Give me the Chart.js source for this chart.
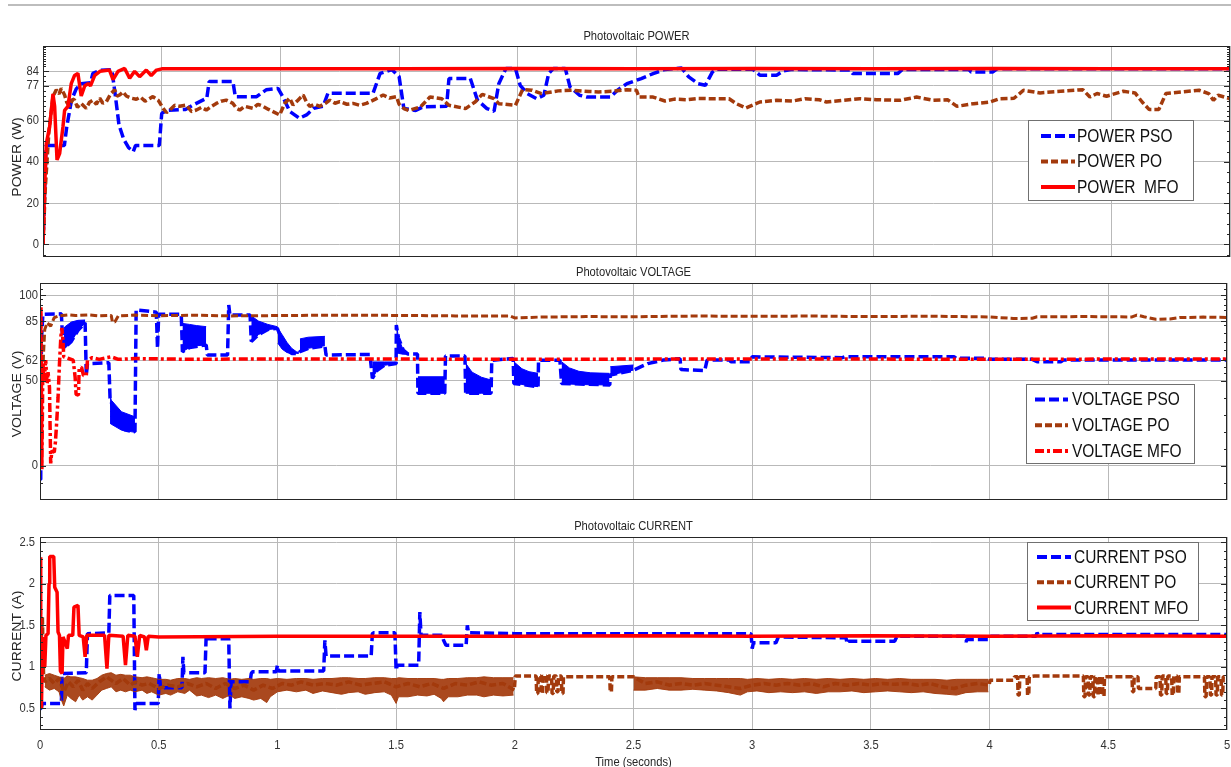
<!DOCTYPE html>
<html>
<head>
<meta charset="utf-8">
<title>Photovoltaic POWER / VOLTAGE / CURRENT</title>
<script src="https://cdn.jsdelivr.net/npm/chart.js@4.4.1/dist/chart.umd.min.js"></script>
<style>
  html, body { margin: 0; padding: 0; background: #ffffff; }
  #fig { position: relative; width: 1231px; height: 767px; overflow: hidden; background: #ffffff; }
  #fig canvas { position: absolute; left: 0; }
  #rule { position: absolute; left: 8px; top: 4px; width: 1223px; height: 2px; background: #bdbdbd; }
</style>
</head>
<body>
<div id="fig">
  <div id="rule"></div>
  <canvas id="cPower" width="1231" height="262" style="top:0px"></canvas>
  <canvas id="cVolt" width="1231" height="241" style="top:262px"></canvas>
  <canvas id="cCurr" width="1231" height="264" style="top:503px"></canvas>
</div>
<script>
// ---------- time axis ----------
const timeTicks = [0, 0.5, 1, 1.5, 2, 2.5, 3, 3.5, 4, 4.5, 5];
const timeLabels = ['0', '0.5', '1', '1.5', '2', '2.5', '3', '3.5', '4', '4.5', '5'];

// ---------- PV power (W), [time s, value] ----------
const powerTicks = [0, 20, 40, 60, 77, 84];
const powerMinor = [-5, 5, 10, 15, 25, 30, 35, 45, 50, 55, 62.4, 64.8, 67.2, 69.6, 72, 74.4, 79.3, 81.7,
  86.4, 87.6, 88.8, 90, 91.2, 92.4, 93.6, 94.8, 96];

const powerPSO = [[0,0],[0.008,30],[0.013,48],[0.09,48],[0.1,57],[0.12,70],[0.14,75.5],[0.16,78],[0.2,78.5],
  [0.21,83],[0.24,84.5],[0.29,84.8],[0.305,72],[0.32,58],[0.34,51],[0.36,47],[0.38,45],[0.39,48],[0.49,48],
  [0.5,63.5],[0.52,65],[0.6,65.5],[0.63,67.5],[0.69,71],[0.7,79],[0.8,79],[0.81,71.7],[0.9,71.7],[0.94,75],
  [0.99,75.7],[1.01,71.7],[1.04,64.5],[1.08,61.2],[1.11,62.8],[1.14,66],[1.18,67],[1.2,73.3],[1.39,73.3],
  [1.42,83],[1.47,84.8],[1.5,81.5],[1.52,66],[1.57,65],[1.6,66.7],[1.7,67],[1.71,80.5],[1.8,80.5],[1.83,70],
  [1.87,65.9],[1.9,64.6],[1.92,78],[1.95,85.4],[1.99,85.4],[2.01,77.2],[2.04,73.2],[2.08,70.7],[2.11,72.4],
  [2.13,82.9],[2.15,85.4],[2.2,85.4],[2.22,76.4],[2.26,72.4],[2.29,71.5],[2.39,71.5],[2.42,74.8],[2.46,78],
  [2.52,80.5],[2.57,82.9],[2.62,84.9],[2.69,85.6],[2.72,81.3],[2.76,78],[2.79,77.2],[2.82,83.7],[2.84,85],
  [2.99,85],[3.02,82.1],[3.09,82.1],[3.12,84.2],[3.15,84.9],[3.4,84.6],[3.41,82.9],[3.6,82.9],[3.62,84.9],
  [3.9,84.9],[3.91,83.7],[4.0,83.7],[4.02,85.3],[5,85.3]];

const powerPO = [[0,0],[0.01,28],[0.025,55],[0.042,71.7],[0.056,75],[0.068,73],[0.077,75.7],[0.091,72.5],
  [0.1,69],[0.112,67],[0.125,70.5],[0.133,70],[0.145,66.5],[0.161,68.4],[0.182,66],[0.196,69],[0.21,70],
  [0.225,68],[0.239,71],[0.252,68.5],[0.267,69.3],[0.285,73],[0.302,75],[0.312,72],[0.323,72.5],[0.337,74],
  [0.351,72],[0.37,71],[0.393,70.4],[0.41,71.5],[0.43,69.5],[0.463,71.7],[0.485,70],[0.506,66],[0.52,64],
  [0.534,65.2],[0.555,67.5],[0.576,67],[0.604,67.6],[0.625,64.5],[0.646,65.2],[0.668,66.5],[0.688,65.2],
  [0.71,67],[0.73,68.4],[0.75,69.5],[0.772,70],[0.8,68.4],[0.815,66],[0.829,65.2],[0.85,67],[0.885,66],
  [0.905,68],[0.927,67],[0.95,65.5],[0.969,64.4],[0.997,62.8],[1.018,68.4],[1.039,71],[1.053,67.6],[1.074,70],
  [1.096,72.5],[1.11,69],[1.124,67],[1.145,68],[1.166,67],[1.19,68.5],[1.208,70],[1.23,68.5],[1.25,69.3],
  [1.28,68],[1.306,68.4],[1.335,67.5],[1.362,68.4],[1.4,70.5],[1.433,72.5],[1.46,71],[1.489,71.7],[1.5,68],
  [1.52,65.9],[1.54,65],[1.59,66.7],[1.63,71.5],[1.68,70.7],[1.71,67.5],[1.78,65.9],[1.82,69.1],[1.85,72.8],
  [1.9,70.7],[1.92,68.3],[1.99,67.5],[2.02,75.1],[2.06,74.8],[2.1,73.2],[2.17,74.5],[2.23,74.8],[2.3,74.2],
  [2.34,74],[2.4,74.3],[2.46,75.1],[2.5,74.8],[2.51,71.5],[2.57,71.5],[2.62,69.6],[2.66,70.5],[2.71,70.2],
  [2.76,70.8],[2.82,70.7],[2.89,70.7],[2.92,68.3],[2.96,66.2],[3.02,69.1],[3.09,69.9],[3.16,69.6],[3.21,70.7],
  [3.27,70.2],[3.3,69.1],[3.37,69.9],[3.44,70.7],[3.51,70.2],[3.61,69.9],[3.68,71.5],[3.75,69.9],[3.81,70.2],
  [3.85,67],[3.92,68.3],[3.99,69.1],[4.03,70.7],[4.09,70.9],[4.13,74.8],[4.2,73.5],[4.31,74.5],[4.38,75.1],
  [4.41,71.5],[4.44,73.2],[4.48,71.9],[4.55,74.3],[4.6,73.5],[4.63,69.1],[4.66,65.4],[4.7,65.4],[4.73,73.2],
  [4.8,74],[4.87,74.8],[4.91,73.2],[4.93,69.9],[4.95,72.4],[5,70.7]];

const powerMFO = [[0,0],[0.007,28],[0.014,49],[0.028,57],[0.042,73],[0.049,67],[0.059,41],[0.07,44],
  [0.084,57],[0.091,65],[0.105,67],[0.119,78],[0.133,82],[0.147,83],[0.161,72],[0.176,77],[0.19,78],[0.2,77],
  [0.218,82],[0.24,84],[0.28,84.6],[0.295,80],[0.316,84],[0.344,85.4],[0.365,80.6],[0.386,84],[0.407,81.4],
  [0.435,84.6],[0.456,82],[0.478,84.6],[0.5,85.2],[1,85.3],[1.5,85.2],[2,85.4],[2.5,85.3],[3,85.4],
  [3.5,85.3],[4,85.4],[4.5,85.3],[5,85.3]];

// ---------- PV voltage (V) ----------
const voltTicks = [0, 50, 62, 85, 100];
const voltMinor = [-10, 10, 20, 30, 40, 54.3, 58.2, 68, 72.9, 77.7, 82.6, 91.4, 94.3, 97.7, 103.5];

const voltPSO = [[0,-8],[0.003,-8],[0.006,73],[0.012,89],[0.09,89.2],[0.097,70],[0.1,69],[0.13,72.7],
  [0.16,79.5],[0.19,84],[0.195,53.2],[0.2,60],[0.29,60.5],[0.295,40],[0.33,23],[0.36,21],[0.4,20],
  [0.405,91.5],[0.49,90.2],[0.495,69],[0.5,89],[0.595,89],[0.6,67],[0.63,69.5],[0.7,71],[0.705,65],
  [0.79,65],[0.795,94.4],[0.8,88.5],[0.885,88.5],[0.89,73],[0.92,77],[0.96,80],[1.0,80.7],[1.02,73],
  [1.04,68],[1.06,66],[1.09,66],[1.095,67],[1.13,69],[1.2,70.5],[1.205,65],[1.39,65.4],[1.4,51.4],
  [1.42,56],[1.45,59],[1.5,60],[1.501,82.6],[1.51,75],[1.53,68],[1.55,65.6],[1.59,65.6],[1.592,42.6],
  [1.705,42.6],[1.708,64.5],[1.79,64.5],[1.793,42.6],[1.9,42.6],[1.903,62],[1.993,63],[1.996,48.4],
  [2.098,46.5],[2.1,62],[2.19,62],[2.197,48.4],[2.4,47.5],[2.402,53.3],[2.5,56.2],[2.56,60],[2.626,62.1],
  [2.696,62.9],[2.7,56.5],[2.8,56],[2.81,62.1],[2.905,62.1],[2.91,61.1],[2.99,61.1],[3.0,64],[3.38,63.5],
  [3.39,64],[3.85,64],[3.86,63.1],[3.99,63.1],[4.0,62.5],[4.18,62.5],[4.2,61.1],[4.3,61.1],[4.31,62.1],[5,62.1]];

// fast switching ripple of the PSO voltage: [time, lower envelope, upper envelope]
const voltPSORipple = [
  [0.1,69,79],[0.104,68.8,81.5],[0.132,72.7,84.4],[0.16,79.5,85.4],[0.19,84,85.6],[0.192,null,null],
  [0.295,25,42],[0.3,24.5,38.6],[0.343,21,31.8],[0.4,19.7,28.8],[0.402,null,null],
  [0.6,67,83.6],[0.63,69.5,83],[0.66,70.5,82.3],[0.7,71,81.7],[0.702,null,null],
  [0.89,73,88],[0.92,77,85],[0.96,80,83],[0.999,80.5,81.7],[1.0,null,null],
  [1.002,72,80.7],[1.02,68.5,77],[1.04,66.5,72.5],[1.06,66,69],[1.08,66,67],[1.09,66,66.5],[1.092,null,null],
  [1.095,67,74.5],[1.13,69,75.5],[1.2,70.5,76],[1.202,null,null],
  [1.4,51.4,61],[1.42,56,61],[1.45,59,61],[1.499,60,61],[1.5,null,null],
  [1.502,66,82.6],[1.51,66,75],[1.53,65.5,68],[1.55,65.5,66],[1.552,null,null],
  [1.592,42.6,52.3],[1.705,42.6,52.3],[1.707,null,null],
  [1.793,42.6,60.2],[1.82,42.6,55],[1.86,42.6,52],[1.9,42.6,50.4],[1.902,null,null],
  [1.996,48.4,61.1],[2.03,47.8,57],[2.06,47,55.3],[2.098,46.5,54.3],[2.1,null,null],
  [2.197,48.4,61.1],[2.23,48,57.5],[2.27,47.8,55.5],[2.32,47.6,54.6],[2.399,47.5,54.3],[2.4,null,null],
  [2.402,53.3,58.2],[2.5,56.2,59.2]];

const voltPO = [[0,40],[0.005,55],[0.01,48],[0.015,66],[0.02,80],[0.03,84],[0.045,82],[0.06,87],[0.08,88],
  [0.12,88.6],[0.15,88.2],[0.2,88.6],[0.25,88],[0.3,88.3],[0.305,84.4],[0.315,84.4],[0.33,88],[0.4,88.5],
  [0.5,88.1],[0.65,88.4],[0.8,88],[1.0,88.2],[1.2,88.4],[1.5,88.3],[1.75,88],[1.98,88],[2.0,86.8],[2.1,87.3],
  [2.3,87.6],[2.5,87.5],[2.75,87.9],[3.0,87.8],[3.25,87.9],[3.5,87.6],[3.75,87.8],[4.0,87.4],[4.1,86.5],
  [4.18,86.6],[4.2,87.5],[4.4,87.6],[4.6,87.4],[4.62,88.5],[4.65,87.5],[4.7,86],[4.76,86.2],[4.8,87],
  [4.9,87.3],[5,87.1]];

const voltMFO = [[0,5],[0.004,93],[0.008,-2],[0.012,60],[0.018,50],[0.024,62],[0.03,48],[0.034,55],[0.04,46],
  [0.045,1.5],[0.05,9],[0.06,8],[0.065,14],[0.07,25],[0.076,40],[0.082,60],[0.088,76],[0.092,81],[0.097,73],
  [0.1,64],[0.12,63],[0.14,62],[0.148,52],[0.152,42],[0.162,41.5],[0.165,57],[0.175,58],[0.183,53],[0.195,53],
  [0.2,62],[0.22,63.5],[0.25,62.5],[0.28,63.5],[0.3,64],[0.33,62.5],[0.4,63],[0.6,62.6],[1,62.7],[2,62.6],
  [3,62.7],[4,62.6],[5,62.7]];

// ---------- PV current (A) ----------
const currTicks = [0.5, 1, 1.5, 2, 2.5];
const currMinor = [0.3, 0.4, 0.6, 0.7, 0.8, 0.9, 1.1, 1.2, 1.3, 1.4, 1.6, 1.7, 1.8, 1.9, 2.1, 2.2, 2.3, 2.4];

const currPSO = [[0,0.5],[0.005,0.5],[0.01,0.56],[0.09,0.56],[0.093,0.92],[0.195,0.93],[0.2,1.4],[0.29,1.41],
  [0.294,1.86],[0.395,1.86],[0.4,0.48],[0.405,0.56],[0.498,0.56],[0.502,0.92],[0.508,0.75],[0.598,0.75],
  [0.602,1.12],[0.606,0.93],[0.695,0.93],[0.7,1.38],[0.705,1.34],[0.795,1.34],[0.8,0.5],[0.805,0.82],
  [0.885,0.82],[0.89,0.92],[0.895,0.94],[0.995,0.94],[1.0,1.02],[1.005,0.95],[1.195,0.95],[1.2,1.32],
  [1.205,1.13],[1.395,1.13],[1.4,1.4],[1.405,1.41],[1.495,1.41],[1.5,0.96],[1.505,1.02],[1.595,1.02],
  [1.6,1.66],[1.605,1.38],[1.695,1.38],[1.7,1.32],[1.71,1.26],[1.795,1.26],[1.8,1.5],[1.805,1.41],[2.0,1.4],
  [2.995,1.4],[3.0,1.22],[3.005,1.29],[3.1,1.29],[3.11,1.36],[3.395,1.35],[3.4,1.28],[3.405,1.31],[3.6,1.31],
  [3.61,1.37],[3.895,1.37],[3.9,1.3],[3.905,1.33],[4.0,1.33],[4.005,1.37],[4.195,1.37],[4.2,1.41],[4.205,1.39],
  [5,1.39]];

const currPO = [[0,1.84],[0.005,1.3],[0.01,1.6],[0.015,0.9],[0.02,0.82],[0.04,0.86],[0.06,0.8],[0.08,0.86],
  [0.1,0.7],[0.12,0.82],[0.14,0.76],[0.16,0.84],[0.18,0.72],[0.2,0.8],[0.22,0.74],[0.25,0.82],[0.28,0.88],
  [0.3,0.84],[0.32,0.8],[0.35,0.86],[0.38,0.78],[0.4,0.82],[0.43,0.78],[0.46,0.8],[0.5,0.74],[0.54,0.78],
  [0.58,0.76],[0.62,0.8],[0.66,0.76],[0.7,0.8],[0.74,0.74],[0.78,0.8],[0.82,0.74],[0.86,0.78],[0.9,0.72],
  [0.94,0.78],[0.98,0.74],[1.02,0.8],[1.06,0.78],[1.1,0.82],[1.15,0.78],[1.2,0.8],[1.25,0.78],[1.3,0.82],
  [1.35,0.78],[1.4,0.8],[1.45,0.82],[1.5,0.76],[1.55,0.8],[1.6,0.76],[1.65,0.8],[1.7,0.74],[1.75,0.8],
  [1.8,0.78],[1.85,0.82],[1.9,0.78],[1.95,0.8],[1.998,0.72],
  [2.002,0.89],[2.09,0.89],[2.092,0.68],[2.097,0.68],[2.099,0.89],[2.11,0.89],[2.112,0.68],[2.117,0.68],
  [2.119,0.89],[2.133,0.89],[2.135,0.69],[2.14,0.69],[2.142,0.89],[2.155,0.89],[2.157,0.68],[2.162,0.68],
  [2.164,0.89],[2.175,0.89],[2.177,0.7],[2.182,0.7],[2.184,0.89],[2.196,0.89],[2.198,0.68],[2.203,0.68],
  [2.205,0.88],[2.4,0.88],[2.402,0.7],[2.407,0.7],[2.409,0.88],[2.5,0.88],
  [2.55,0.8],[2.6,0.82],[2.65,0.78],[2.7,0.8],[2.75,0.78],[2.8,0.8],[2.85,0.78],[2.9,0.76],[2.95,0.74],
  [3.0,0.78],[3.05,0.8],[3.1,0.78],[3.15,0.8],[3.2,0.78],[3.25,0.8],[3.3,0.76],[3.35,0.8],[3.4,0.78],
  [3.45,0.8],[3.5,0.78],[3.55,0.8],[3.6,0.79],[3.65,0.8],[3.7,0.78],[3.75,0.8],[3.8,0.76],[3.85,0.74],
  [3.9,0.78],[3.95,0.8],[3.998,0.78],
  [4.002,0.84],[4.1,0.84],[4.105,0.88],[4.118,0.88],[4.12,0.66],[4.125,0.66],[4.127,0.88],[4.158,0.88],
  [4.16,0.66],[4.165,0.66],[4.167,0.88],[4.19,0.89],[4.395,0.89],[4.397,0.64],[4.402,0.64],[4.404,0.88],
  [4.415,0.88],[4.417,0.66],[4.422,0.66],[4.424,0.88],[4.435,0.88],[4.437,0.64],[4.442,0.64],[4.444,0.88],
  [4.455,0.88],[4.457,0.66],[4.462,0.66],[4.464,0.88],[4.475,0.88],[4.477,0.65],[4.482,0.65],[4.484,0.88],
  [4.6,0.88],[4.602,0.7],[4.607,0.7],[4.609,0.88],[4.625,0.88],[4.627,0.74],[4.7,0.74],[4.702,0.88],
  [4.718,0.88],[4.72,0.66],[4.725,0.66],[4.727,0.89],[4.742,0.89],[4.744,0.68],[4.749,0.68],[4.751,0.89],
  [4.767,0.89],[4.769,0.66],[4.774,0.66],[4.776,0.89],[4.79,0.89],[4.792,0.68],[4.797,0.68],[4.799,0.88],
  [4.905,0.88],[4.907,0.64],[4.912,0.64],[4.914,0.88],[4.928,0.88],[4.93,0.66],[4.935,0.66],[4.937,0.88],
  [4.952,0.88],[4.954,0.66],[4.959,0.66],[4.961,0.88],[4.975,0.88],[4.977,0.66],[4.982,0.66],[4.984,0.88],
  [5,0.88]];

// chattering of the P&O current: [time, lower envelope, upper envelope]
const currPORipple = [
  [0.02,0.76,0.9],[0.04,0.72,0.92],[0.06,0.74,0.9],[0.08,0.7,0.88],[0.09,0.6,0.87],[0.1,0.53,0.86],
  [0.115,0.66,0.89],[0.13,0.62,0.88],[0.15,0.58,0.88],[0.165,0.66,0.87],[0.18,0.6,0.86],[0.2,0.64,0.84],
  [0.22,0.6,0.84],[0.24,0.66,0.86],[0.26,0.72,0.9],[0.28,0.74,0.92],[0.3,0.76,0.93],[0.32,0.7,0.9],
  [0.34,0.72,0.91],[0.36,0.7,0.9],[0.38,0.72,0.9],[0.4,0.7,0.88],[0.43,0.72,0.87],[0.45,0.68,0.88],
  [0.47,0.7,0.87],[0.5,0.66,0.85],[0.53,0.68,0.85],[0.55,0.66,0.84],[0.58,0.7,0.86],[0.61,0.68,0.86],
  [0.63,0.72,0.85],[0.66,0.65,0.87],[0.68,0.66,0.86],[0.71,0.63,0.87],[0.74,0.66,0.86],[0.77,0.62,0.87],
  [0.8,0.66,0.85],[0.82,0.62,0.86],[0.85,0.64,0.85],[0.88,0.62,0.86],[0.9,0.6,0.85],[0.93,0.62,0.86],
  [0.955,0.57,0.86],[0.97,0.64,0.85],[1.0,0.7,0.86],[1.04,0.72,0.85],[1.08,0.7,0.86],[1.12,0.72,0.86],
  [1.15,0.68,0.85],[1.19,0.71,0.86],[1.23,0.69,0.86],[1.27,0.67,0.87],[1.3,0.69,0.87],[1.34,0.7,0.86],
  [1.37,0.67,0.86],[1.41,0.69,0.87],[1.45,0.7,0.87],[1.48,0.66,0.86],[1.5,0.56,0.86],[1.51,0.64,0.87],
  [1.55,0.64,0.86],[1.59,0.66,0.86],[1.63,0.65,0.86],[1.66,0.67,0.86],[1.69,0.62,0.85],[1.7,0.58,0.85],
  [1.72,0.64,0.86],[1.76,0.64,0.86],[1.8,0.66,0.87],[1.84,0.66,0.87],[1.87,0.64,0.88],[1.91,0.66,0.87],
  [1.95,0.65,0.87],[1.995,0.66,0.87],[2.0,null,null],
  [2.5,0.72,0.88],[2.55,0.72,0.87],[2.6,0.74,0.87],[2.65,0.72,0.87],[2.7,0.72,0.87],[2.75,0.73,0.86],
  [2.8,0.72,0.86],[2.85,0.71,0.86],[2.9,0.69,0.86],[2.95,0.66,0.86],[2.98,0.7,0.85],[3.02,0.71,0.86],
  [3.07,0.69,0.85],[3.12,0.7,0.86],[3.17,0.69,0.85],[3.22,0.7,0.86],[3.27,0.68,0.85],[3.32,0.7,0.86],
  [3.37,0.7,0.85],[3.42,0.71,0.86],[3.47,0.69,0.85],[3.52,0.7,0.86],[3.57,0.71,0.85],[3.62,0.7,0.86],
  [3.67,0.69,0.85],[3.72,0.7,0.85],[3.77,0.68,0.85],[3.82,0.67,0.84],[3.86,0.66,0.85],[3.9,0.69,0.85],
  [3.95,0.7,0.85],[3.995,0.7,0.85]];

const currMFO = [[0,2.32],[0.003,1.3],[0.006,0.5],[0.01,1.2],[0.014,1.36],[0.02,1.0],[0.025,1.38],[0.034,1.4],
  [0.038,2.0],[0.041,2.33],[0.058,2.33],[0.062,1.96],[0.072,1.9],[0.076,1.42],[0.082,1.38],[0.086,0.95],
  [0.093,0.92],[0.097,1.36],[0.105,1.3],[0.115,1.22],[0.12,1.38],[0.138,1.38],[0.143,1.72],[0.16,1.74],
  [0.165,1.38],[0.182,1.36],[0.19,1.12],[0.197,1.38],[0.272,1.38],[0.282,0.98],[0.29,1.38],[0.35,1.37],
  [0.36,1.02],[0.37,1.38],[0.4,1.37],[0.41,1.12],[0.42,1.38],[0.44,1.36],[0.448,1.2],[0.456,1.37],[0.5,1.36],
  [1,1.37],[1.5,1.37],[2,1.37],[2.5,1.375],[3,1.37],[3.5,1.375],[4,1.37],[4.5,1.375],[5,1.37]];

// ---------- styling ----------
const BLUE = '#0000ff', BROWN = '#a33a0c', RED = '#ff0000';
const BROWN_FILL = 'rgba(163,58,12,0.92)';
const GRID = '#b9b9b9', AXIS = '#262626';
const FONT = '"Liberation Sans", Arial, Helvetica, sans-serif';
const SQUEEZE = 0.86;   // figure text is horizontally condensed

function trace(rows, color, width, dash, order) {
  return { data: rows.map(r => ({ x: r[0], y: r[1] })), borderColor: color, backgroundColor: color,
    borderWidth: width, borderDash: dash, borderJoinStyle: 'bevel', pointRadius: 0, pointHoverRadius: 0,
    tension: 0, fill: false, spanGaps: false, order };
}
function envelope(rows, col, color, fillColor, fill, order) {
  return { data: rows.map(r => ({ x: r[0], y: r[col] })), borderColor: color, backgroundColor: fillColor,
    borderWidth: 1, pointRadius: 0, pointHoverRadius: 0, tension: 0, fill, spanGaps: false, order };
}

function text(ctx, s, x, y, size, align, color, rotate) {
  ctx.save();
  ctx.translate(x, y);
  if (rotate) { ctx.rotate(-Math.PI / 2); ctx.scale(1, SQUEEZE); }
  else ctx.scale(SQUEEZE, 1);
  ctx.font = size + 'px ' + FONT;
  ctx.textAlign = align;
  ctx.textBaseline = 'middle';
  ctx.fillStyle = color;
  ctx.fillText(s, 0, 0);
  ctx.restore();
}

// axes box, inner tick marks, texts and legend of one MATLAB-style panel
const panelDecor = {
  id: 'panelDecor',
  afterDraw(chart, _args, o) {
    const ctx = chart.ctx, a = chart.chartArea, ys = chart.scales.y, xs = chart.scales.x;
    ctx.save();
    ctx.strokeStyle = AXIS;
    ctx.lineWidth = 1;
    ctx.beginPath();
    const mark = (v, len) => {
      const py = Math.round(ys.getPixelForValue(v)) + 0.5;
      ctx.moveTo(a.left, py); ctx.lineTo(a.left + len, py);
      ctx.moveTo(a.right, py); ctx.lineTo(a.right - len, py);
    };
    o.minor.forEach(v => mark(v, 3));
    o.ticks.forEach(v => mark(v, 6));
    ctx.stroke();
    ctx.strokeRect(Math.round(a.left) + 0.5, Math.round(a.top) + 0.5,
      Math.round(a.right - a.left) - 1, Math.round(a.bottom - a.top) - 1);

    o.ticks.forEach((v, i) => text(ctx, o.tickLabels[i], o.labelRight, ys.getPixelForValue(v), 13, 'right', '#333333'));
    if (o.xLabels) {
      timeTicks.forEach((v, i) => text(ctx, timeLabels[i], xs.getPixelForValue(v), o.xLabelY, 13, 'center', '#333333'));
      text(ctx, o.xTitle, (a.left + a.right) / 2, o.xTitleY, 13, 'center', AXIS);
    }
    text(ctx, o.title, (a.left + a.right) / 2, o.titleY, 13, 'center', AXIS);
    text(ctx, o.yTitle, o.yTitleX, o.yTitleY, 14, 'center', AXIS, true);

    const L = o.legend;
    ctx.fillStyle = '#ffffff';
    ctx.fillRect(L.x, L.y, L.w, L.h);
    ctx.strokeStyle = '#707070';
    ctx.strokeRect(L.x + 0.5, L.y + 0.5, L.w - 1, L.h - 1);
    L.items.forEach((it, k) => {
      const ds = chart.data.datasets[it.ds];
      const ry = L.y + L.first + k * L.step;
      ctx.save();
      ctx.strokeStyle = ds.borderColor;
      ctx.lineWidth = 4;
      ctx.setLineDash(ds.borderDash || []);
      ctx.beginPath();
      ctx.moveTo(L.sx0, ry); ctx.lineTo(L.sx1, ry);
      ctx.stroke();
      ctx.restore();
      text(ctx, it.text, L.tx, ry + 1, 18, 'left', '#111111');
    });
    ctx.restore();
  }
};

function panel(id, datasets, yRange, leftW, pad, decor) {
  return new Chart(document.getElementById(id), {
    type: 'line',
    data: { datasets },
    options: {
      responsive: false,
      animation: false,
      events: [],
      layout: { padding: pad },
      plugins: {
        legend: { display: false },
        tooltip: { enabled: false },
        title: { display: false },
        filler: { drawTime: 'beforeDatasetsDraw' },
        panelDecor: decor
      },
      scales: {
        x: {
          type: 'linear', min: 0, max: 5,
          afterBuildTicks: s => { s.ticks = timeTicks.map(v => ({ value: v })); },
          afterFit: s => { s.height = 0; },
          ticks: { display: false },
          grid: { color: GRID, lineWidth: 1, drawTicks: false },
          border: { display: false }
        },
        y: {
          type: 'linear', min: yRange.min, max: yRange.max,
          afterBuildTicks: s => { s.ticks = yRange.ticks.map(v => ({ value: v })); },
          afterFit: s => { s.width = leftW; },
          ticks: { display: false },
          grid: { color: GRID, lineWidth: 1, drawTicks: false },
          border: { display: false }
        }
      }
    },
    plugins: [panelDecor]
  });
}

// ---------- power ----------
panel('cPower', [
  trace(powerPSO, BLUE, 3.5, [10, 4], 3),
  trace(powerPO, BROWN, 3.5, [7, 3], 2),
  trace(powerMFO, RED, 3.5, [], 1)
], { min: -6.2, max: 96.3, ticks: powerTicks }, 43, { left: 0, right: 1, top: 46, bottom: 5 }, {
  ticks: powerTicks, tickLabels: powerTicks.map(String), minor: powerMinor, labelRight: 39,
  title: 'Photovoltaic POWER', titleY: 36, yTitle: 'POWER (W)', yTitleX: 17.5, yTitleY: 157,
  xLabels: false,
  legend: { x: 1028, y: 120, w: 166, h: 81, first: 16, step: 25.5, sx0: 1041, sx1: 1075, tx: 1077,
    items: [{ ds: 0, text: 'POWER PSO' }, { ds: 1, text: 'POWER PO' }, { ds: 2, text: 'POWER  MFO' }] }
});

// ---------- voltage ----------
panel('cVolt', [
  envelope(voltPSORipple, 1, BLUE, BLUE, false, 3),
  envelope(voltPSORipple, 2, BLUE, BLUE, '-1', 3),
  trace(voltPSO, BLUE, 3.5, [10, 4], 3),
  trace(voltPO, BROWN, 3, [7, 3], 2),
  trace(voltMFO, RED, 3.5, [9, 3, 3, 3], 1)
], { min: -20, max: 107.3, ticks: voltTicks }, 40, { left: 0, right: 4, top: 21, bottom: 3 }, {
  ticks: voltTicks, tickLabels: voltTicks.map(String), minor: voltMinor, labelRight: 38,
  title: 'Photovoltaic VOLTAGE', titleY: 10, yTitle: 'VOLTAGE (V)', yTitleX: 17.5, yTitleY: 132,
  xLabels: false,
  legend: { x: 1026, y: 122, w: 169, h: 80, first: 15.5, step: 25.7, sx0: 1035, sx1: 1068, tx: 1072,
    items: [{ ds: 2, text: 'VOLTAGE PSO' }, { ds: 3, text: 'VOLTAGE PO' }, { ds: 4, text: 'VOLTAGE MFO' }] }
});

// ---------- current ----------
panel('cCurr', [
  trace(currPSO, BLUE, 3.5, [10, 4], 3),
  envelope(currPORipple, 1, BROWN_FILL, BROWN_FILL, false, 2),
  envelope(currPORipple, 2, BROWN_FILL, BROWN_FILL, '-1', 2),
  trace(currPO, BROWN, 3.5, [7, 3], 2),
  trace(currMFO, RED, 3.5, [], 1)
], { min: 0.24, max: 2.564, ticks: currTicks }, 40, { left: 0, right: 4, top: 34, bottom: 37 }, {
  ticks: currTicks, tickLabels: ['0.5', '1', '1.5', '2', '2.5'], minor: currMinor, labelRight: 35,
  title: 'Photovoltaic CURRENT', titleY: 23, yTitle: 'CURRENT (A)', yTitleX: 17.5, yTitleY: 133,
  xLabels: true, xLabelY: 242, xTitle: 'Time (seconds)', xTitleY: 259,
  legend: { x: 1027, y: 39, w: 172, h: 79, first: 15, step: 25.3, sx0: 1037, sx1: 1071, tx: 1074,
    items: [{ ds: 0, text: 'CURRENT PSO' }, { ds: 3, text: 'CURRENT PO' }, { ds: 4, text: 'CURRENT MFO' }] }
});
</script>
</body>
</html>
